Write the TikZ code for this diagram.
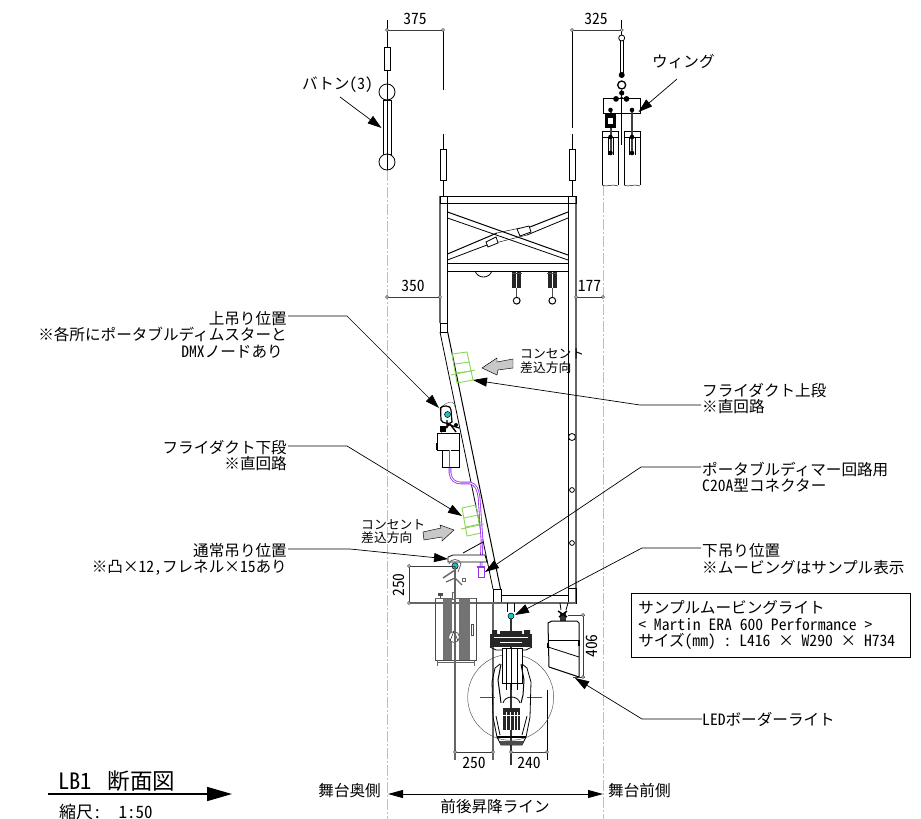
\documentclass[tikz,border=0pt]{standalone}
\usepackage{fontspec}
\setmainfont{Noto Sans CJK JP}
\newfontfamily\halfw[RawFeature=+hwid]{Noto Sans CJK JP}
\newcommand{\la}[1]{{\halfw #1}}
\newcommand{\hs}{\hspace*{.5em}}
\newcommand{\tightlines}{\setlength{\lineskiplimit}{-10pt}}
\usetikzlibrary{arrows.meta,calc}
\definecolor{cab}{HTML}{9A33F0}
\definecolor{grn}{HTML}{8CD45A}
\definecolor{cyn}{HTML}{10C8C8}
\definecolor{arw}{HTML}{C8C8C8}
\definecolor{dim}{HTML}{3C3C3C}
\tikzset{
 lbl/.style={inner sep=0pt,font=\fontsize{15.6}{16.4}\selectfont\tightlines},
 lblr/.style={lbl,align=right,anchor=north east},
 lbll/.style={lbl,align=left,anchor=north west},
 sm/.style={inner sep=0pt,anchor=west,font=\fontsize{12.8}{13.4}\selectfont\tightlines,align=left},
 leader/.style={line width=.7pt,-{Triangle[length=14pt,width=9pt]}},
 dimln/.style={line width=.8pt,draw=dim},
 lane/.style={line width=1pt,draw=black!25,dash pattern=on 11pt off 2pt on 2pt off 2pt},
 ln/.style={line width=.8pt},
 thk/.style={line width=1pt},
 gr/.style={line width=1.5pt,draw=black!60},
 hair/.style={line width=.45pt},
 grnl/.style={line width=.9pt,draw=grn},
 dot/.style={fill=cyn,draw=black,line width=.5pt},
 dimpt/.style={fill=white,draw=dim,line width=.5pt}
}
\begin{document}
\begin{tikzpicture}[x=1pt,y=-1pt]
\useasboundingbox (0,0) rectangle (921,819);
% lane lines
\draw[lane] (387,170)--(387,819);
\draw[lane] (603,185)--(603,819);
% dimension top
\draw[dimln] (387,30)--(443,30);
\draw[dimln] (572,30)--(621.7,30);
\draw[ln] (443,30)--(443,90) (443,134)--(443,196);
\draw[ln] (572,30)--(572,128) (572,134)--(572,196);
\draw[ln] (387,20)--(387,170);
\draw[ln] (621.7,20)--(621.7,38);
\draw[dimln] (387,297)--(440,297) (576,297)--(603,297);
\node[lbl] (d375) at (415,19) {\la{375}};
\node[lbl] (d325) at (596,19) {\la{325}};
\node[lbl] (d350) at (413,286) {\la{350}};
\node[lbl] (d177) at (589.5,286) {\la{177}};
% batten
\draw[hair,fill=white] (384,47) rectangle (390,70);
\draw[ln,fill=white] (383,100) rectangle (391,154);
\draw[ln,fill=white] (387,92) circle[radius=8];
\draw[ln,fill=white] (387,162) circle[radius=8];
\draw[ln] (387,84)--(387,170);
% truss pendant rects
\draw[hair,fill=white] (440.7,149) rectangle (446.7,180);
\draw[hair,fill=white] (569,149) rectangle (575,180);
% truss
\draw[gr] (440,196)--(440,323);
\draw[gr] (576,196)--(576,603);
\draw[thk] (447.5,196)--(447.5,323);
\draw[thk] (568,196)--(568,588);
\draw[thk] (440,196)--(576,196) (440,203)--(576,203);
\draw[thk] (440,196) rectangle (447.5,203) (568,196) rectangle (576,203);
\draw[thk] (447.5,263)--(568,263);
\draw[ln] (447.5,271)--(568,271);
% X braces
\draw[thk] (447.5,212)--(568,255);
\draw[ln] (447.5,218)--(568,260);
\draw[thk] (447.5,254)--(497,233);
\draw[ln] (447.5,260)--(487,245);
\draw[thk] (530,227)--(568,212);
\draw[ln] (527,235)--(568,218);
\draw[hair] (497,233)--(520,228) (487,245)--(515,238)--(527,235);
\draw[ln,fill=white] (486,242)--(496,237)--(498,243)--(488,247)--cycle;
\draw[ln,fill=white] (517,229)--(529,226)--(531,232)--(520,236)--cycle;
% under-truss fittings
\draw[ln] (475,271) .. controls (478,279) and (489,279) .. (492,271);
\foreach \c in {516.7,552.3}{
 \fill[black!85] (\c-4.5,272) rectangle (\c+4.5,288);
 \draw[white,line width=.6pt] (\c,272)--(\c,288);
 \draw[line width=1pt,black!70] (\c-5,273)--(\c+5,273);
 \draw[line width=1.4pt,black!70] (\c,288)--(\c,297);
 \draw[line width=1pt] (\c,300.7) circle[radius=3.4];
}
% sloped lower chord
\draw[thk] (440,323) rectangle (447.7,332);
\draw[ln] (440,332)--(493,589);
\draw[thk] (447.7,332)--(500.5,589);
% lower box
\draw[thk] (493,589) rectangle (501,603);
\draw[thk] (568,588) rectangle (576,603);
\draw[thk] (501,595.5)--(568,595.5);
\draw[gr] (409,603)--(576,603);
\draw[ln] (507,603)--(507,612) (514,603)--(514,612);
\draw[ln] (560,603)--(561,610) (568,603)--(566,610);
% circles on right chord
\foreach \y/\r in {437/3.5,490/2.4,543/2.4}{\draw[ln,fill=white] (572,\y) circle[radius=\r];}
% wing
\draw[ln,fill=white] (620,38) rectangle (623.5,75);
\draw[ln,fill=white] (621.7,38) circle[radius=3];
\fill (621.7,75) circle[radius=3];
\draw[line width=1.3pt,fill=white] (621.7,85) circle[radius=4];
\fill (621.7,93) circle[radius=2.6] (616,99) circle[radius=2.8] (626.5,99) circle[radius=2.8] (621.7,99) circle[radius=2];
\draw[ln,fill=white] (603,98) rectangle (640,113);
\fill (616,99) circle[radius=2.8] (626.5,99) circle[radius=2.8];
\draw[hair] (621.7,90)--(621.7,145);
\draw[thk] (602,185)--(602,131)--(618,131)--(618,185);
\draw[thk] (624,185)--(624,131)--(640,131)--(640,185);
\draw[ln] (602,137)--(618,137) (624,137)--(640,137);
\draw[hair] (602,185) .. controls (606,188) and (612,183) .. (618,186);
\draw[hair] (624,185) .. controls (628,188) and (634,183) .. (640,186);
\draw[hair] (608,137)--(608,155) (613,137)--(613,155) (629,137)--(629,155) (635,137)--(635,155);
\fill (605,113) rectangle (616,128);
\fill[white] (608,118) rectangle (613,124);
\draw[line width=2pt,black!75] (610.5,108)--(610.5,113) (610.5,128)--(610.5,155);
\draw[line width=2pt,black!75] (632,110)--(632,155);
\foreach \p in {(610.5,110),(610.5,137),(610.5,153),(632,110),(632,137),(632,153)}{\fill \p circle[radius=2.3];}
% green duct blocks
\draw[grnl] (452,354)--(467,352)--(473,380)--(457,383)--cycle;
\draw[grnl] (455,364)--(470,362) (456,373)--(472,371);
\draw[grnl] (451,375)--(475,370);
\draw[grnl] (462,508)--(476,505)--(481,533)--(467,536)--cycle;
\draw[grnl] (464,518)--(478,515) (466,527)--(480,524);
\draw[grnl] (461,529)--(484,524);
% cable
\draw[cab,line width=2.6pt] (450,450)--(450,473) .. controls (451,480) and (455,483) .. (461,483)
  -- (470,483) .. controls (476,484) and (478,490) .. (479,497) -- (482,540) -- (481,567);
\draw[white,line width=.9pt] (450,450)--(450,473) .. controls (451,480) and (455,483) .. (461,483)
  -- (470,483) .. controls (476,484) and (478,490) .. (479,497) -- (482,540) -- (481,567);
\draw[cab,line width=.8pt] (477,567)--(484,567)--(484,577)--(478,577)--(478,567);
\draw[cab,line width=.8pt] (476.5,566.5)--(484.5,566.5);
% upper fixture
\draw[hair,black!60] (441,411) .. controls (442,404) and (448,402) .. (452,402) -- (454,404) -- (456,410);
\draw[line width=1.2pt] (440.5,408) .. controls (441,405) and (452,405) .. (451,410) -- (452,422) .. controls (451,424) and (442,424) .. (441,420) -- cycle;
\draw[dot] (447.5,414.5) circle[radius=3];
\draw[line width=1.2pt] (447,420)--(447,428) (447,424)--(459,428);
\fill (440,426) rectangle (446,432);
\fill (456,425) circle[radius=2];
\draw[line width=1.4pt] (441,432)--(450,424)--(456,432);
\draw[ln,fill=white] (437,433) rectangle (459,450);
\draw[ln,fill=white] (442,450) rectangle (459,467);
\fill (436,443) rectangle (437.5,450);
\draw[cab,line width=2.6pt] (450,450)--(450,467);
\draw[white,line width=.9pt] (450,450)--(450,467);
% shelf bracket
\draw[ln,fill=white] (448,557)--(453,555)--(485,555)--(487,562)--(448,562)--cycle;
\draw[ln] (463,553)--(483,542);
% lower-left fixture (scanner)
\draw[hair,black!70] (435,598) rectangle (476,660);
\draw[ln,black!60] (435,598)--(476,598);
\fill[black!55] (443,599) rectangle (452,660);
\fill[black!55] (459,599) rectangle (470,660);
\draw[hair,black!70] (471,624) rectangle (473,635);
\draw[ln,black!60] (437,660)--(437,666) (474,660)--(474,666) (437,662)--(474,662);
\fill[black!70] (438,593) rectangle (443,596);
\draw[black!70,line width=1pt] (440.5,596)--(440.5,598);
\draw[ln,black!60,fill=white] (454,637) circle[radius=5.5];
\draw[hair] (454,631)--(450,641) (454,631)--(458,641);
\draw[gr] (455,566)--(455,605);
\draw[black!60,line width=1.2pt] (446,582)--(455,578)--(462,585);
\draw[black!60,line width=1.5pt] (443,578)--(455,570);
\draw[black!60,line width=1pt] (462,578) rectangle (465,581);
\draw[black!60,line width=.8pt] (449,564) .. controls (450,558) and (460,558) .. (461,564) -- (458,572);
\draw[black!60,line width=.8pt,fill=white] (452,592) rectangle (455,599);
\draw[dot] (455,566) circle[radius=3.2];
% dims under
\draw[gr] (455,566)--(455,760);
\draw[gr] (493,603)--(493,760);
\draw[gr,draw=black!80] (511,613)--(511,765);
\draw[ln] (547,690)--(547,760);
\draw[dimln] (409,566)--(455,566) (409,566)--(409,603);
\draw[dimln] (455,752)--(493,752) (511,752)--(547,752);
\node[lbl,rotate=90] (d250v) at (399,585) {\la{250}};
\node[lbl] (d250) at (474,763) {\la{250}};
\node[lbl] (d240) at (529,763) {\la{240}};
% moving light
\draw[hair,black!70] (510.7,697.3) circle[radius=43];
\draw[hair,black!70] (480,697.5)--(495,697.5) (527,697.5)--(542,697.5);
\fill[black!85] (490,634) rectangle (532,647);
\fill[black!85] (492,630) rectangle (497,634) (524,630) rectangle (530,634) (500,631) rectangle (522,634);
\draw[white,line width=.6pt] (494,637)--(528,637) (500,642)--(522,642);
\draw[ln] (490,647)--(496,650)--(526,650)--(532,647);
\draw[ln,fill=white] (502,648) rectangle (522,683);
\draw[ln] (506,648)--(506,690) (517,648)--(517,690) (511,648)--(511,690);
\draw[ln] (500,664)--(495,668)--(492,682)--(493,717)--(497,737)--(501,745)--(522,745)--(526,737)--(530,717)--(531,682)--(527,668)--(522,664);
\draw[thk] (501,664)--(498,680)--(500,695)--(501,703);
\draw[thk] (521,664)--(524,680)--(523,695)--(521,703);
\draw[ln] (496,716)--(500,735);
\draw[ln] (527,716)--(522,735);
\draw[ln] (503,703) .. controls (505,695) and (518,695) .. (520,703);
\fill[black!85] (503,708) rectangle (520,730);
\draw[white,hair] (506,712)--(506,730) (510,712)--(510,730) (514,712)--(514,730) (517,712)--(517,730) (503,715)--(520,715);
\draw[line width=1.2pt] (497,737)--(526,737);
\fill[black!70] (500,741) rectangle (523,745);
% hanger dot
\draw[dot] (511,616) circle[radius=3];
% LED border
\fill[black!80] (560,613) rectangle (566,621);
\draw[line width=1.4pt] (558,611)--(567,617) (567,611)--(559,617);
\draw[thk] (548,623)--(552,621)--(577,621)--(579,623)--(579,677)--(549,667)--cycle;
\draw[ln] (548,640)--(579,640);
\draw[ln] (548,647)--(579,657);
\fill (547,643) rectangle (549,648);
\fill (578,640) rectangle (580,646);
% 406
\draw[dimln] (568,615)--(585,615) (573,677)--(585,677) (583,615)--(583,677);
\node[lbl,rotate=90] (d406) at (592,646) {\la{406}};
% dim points
\foreach \p in {(387,30),(443,30),(572,30),(621.7,30),(387,297),(440,297),(576,297),(603,297),(409,566),(409,603),(455,752),(493,752),(511,752),(547,752),(583,615),(583,677)}{\draw[dimpt] \p circle[radius=1.5];}
% gray arrows
\draw[hair,fill=arw] (482,368)--(497,358)--(497,362)--(513,359)--(513,368)--(498,370)--(497,375)--cycle;
\draw[hair,fill=arw] (454,530)--(440,525)--(441,528)--(423,532)--(424,540)--(442,537)--(442,541)--cycle;
\node[sm] (c1) at (520,361) {コンセント\\差込方向};
\node[sm] (c2) at (361,531.5) {コンセント\\差込方向};
% labels
\node[lblr] (l1) at (287,311) {上吊り位置\\※各所にポータブルディムスターと\hspace*{4pt}\\\la{DMX}ノードあり\hspace*{4pt}};
\node[lblr] (l2) at (287,440) {フライダクト下段\\※直回路};
\node[lblr] (l3) at (287,543) {通常吊り位置\\※凸×\la{12,}フレネル×\la{15}あり};
\node[lbll] (r1) at (702,383) {フライダクト上段\\※直回路};
\node[lbll] (r2) at (702,462) {ポータブルディマー回路用\\\la{C20A}型コネクター};
\node[lbll] (r3) at (702,543.5) {下吊り位置\\※ムービングはサンプル表示};
\node[lbl,anchor=west] (r4) at (702,719) {\la{LED}ボーダーライト};
\node[lbl,anchor=west] (wing) at (652,62) {ウィング};
\node[lbl,anchor=west] (bat) at (302,85) {バトン\la{(3)}};
\node[lbl,draw=black,line width=.7pt,anchor=north west,minimum width=279pt,minimum height=64pt,inner xsep=7pt,align=left,text width=265pt] (info) at (631,593) {サンプルムービングライト\\\la{<\hs Martin\hs ERA\hs 600\hs Performance\hs >}\\サイズ\la{(mm)\hs:\hs L416\hs}×\la{\hs W290\hs}×\la{\hs H734}};
% leaders
\coordinate (k1) at (347,316);\coordinate (t1) at (439,408);
\coordinate (k2) at (347,446);\coordinate (t2) at (462,516);
\coordinate (k3) at (350,549);\coordinate (t3) at (448,559);
\coordinate (k4) at (640,405);\coordinate (t4) at (473,380);
\coordinate (k5) at (641,467);\coordinate (t5) at (485,572);
\coordinate (k6) at (642,548);\coordinate (t6) at (515,615);
\coordinate (k7) at (642,719);\coordinate (t7) at (575,678);
\coordinate (s1) at (288,316);\coordinate (s2) at (288,446);\coordinate (s3) at (288,549);
\coordinate (s4) at (701,405);\coordinate (s5) at (701,467);\coordinate (s6) at (701,548);
\draw[leader] (s1)--(k1)--(t1);
\draw[leader] (s2)--(k2)--(t2);
\draw[leader] (s3)--(k3)--(t3);
\draw[leader] (s4)--(k4)--(t4);
\draw[leader] (s5)--(k5)--(t5);
\draw[leader] (s6)--(k6)--(t6);
\draw[leader] (r4.west)--(k7)--(t7);
\draw[leader] (677,79)--(638.5,112);
\draw[leader] (340,97)--(381.5,128);
% bottom
\draw[line width=.9pt,{Triangle[length=15pt,width=8pt]}-{Triangle[length=15pt,width=8pt]}] (388,794)--(603,794);
\node[lbl,anchor=east] (back) at (381,791) {舞台奥側};
\node[lbl,anchor=west] (front) at (608,791) {舞台前側};
\node[lbl] (rise) at (495,807) {前後昇降ライン};
\node[lbl,anchor=west,font=\fontsize{22.5}{24}\selectfont] (title) at (58,781) {\la{LB1}\hspace*{16pt}断面図};
\node[lbl,anchor=west,font=\fontsize{17}{18}\selectfont] (scale) at (59,812) {縮尺\la{:\hs\hs 1:50}};
\draw[line width=1.6pt,-{Triangle[length=25pt,width=14pt]}] (48,794)--(232,794);
\end{tikzpicture}
\end{document}
